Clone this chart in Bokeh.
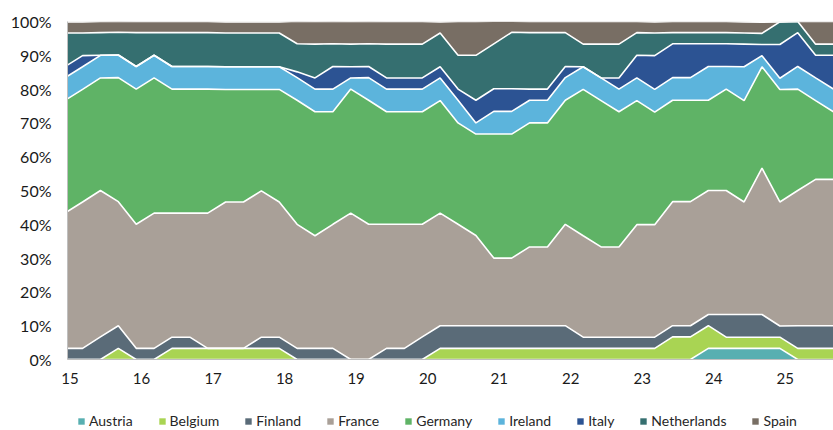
from bokeh.plotting import figure
from bokeh.layouts import column
from bokeh.models import ColumnDataSource, Range1d, FixedTicker, Legend, LegendItem
from bokeh.embed import file_html
from bokeh.resources import INLINE

# ---- data (share of exposure, %, quarterly from 2015) ----
tick_labels = ["15", "16", "17", "18", "19", "20", "21", "22", "23", "24", "25"]
countries = ["Austria", "Belgium", "Finland", "France", "Germany",
             "Ireland", "Italy", "Netherlands", "Spain"]

austria = [0, 0, 0, 0, 0, 0, 0, 0, 0, 0, 0, 0,
           0, 0, 0, 0, 0, 0, 0, 0, 0, 0, 0, 0,
           0, 0, 0, 0, 0, 0, 0, 0, 0, 0, 0, 0,
           3.3, 3.3, 3.3, 3.3, 3.3, 0, 0, 0]
belgium = [0, 0, 0, 3.3, 0, 0, 3.3, 3.3, 3.3, 3.3, 3.3, 3.3,
           3.3, 0, 0, 0, 0, 0, 0, 0, 0, 3.3, 3.3, 3.3,
           3.3, 3.3, 3.3, 3.3, 3.3, 3.3, 3.3, 3.3, 3.3, 3.3, 6.7, 6.7,
           6.7, 3.3, 3.3, 3.3, 3.3, 3.3, 3.3, 3.3]
finland = [3.3, 3.3, 6.7, 6.7, 3.3, 3.3, 3.3, 3.3, 0, 0, 0, 3.3,
           3.3, 3.3, 3.3, 3.3, 0, 0, 3.3, 3.3, 6.7, 6.7, 6.7, 6.7,
           6.7, 6.7, 6.7, 6.7, 6.7, 3.3, 3.3, 3.3, 3.3, 3.3, 3.3, 3.3,
           3.3, 6.7, 6.7, 6.7, 3.3, 6.7, 6.7, 6.7]
france = [40, 43.3, 43.3, 36.7, 36.7, 40, 36.7, 36.7, 40, 43.3, 43.3, 43.3,
          40, 36.7, 33.3, 36.7, 43.3, 40, 36.7, 36.7, 33.3, 33.3, 30, 26.7,
          20, 20, 23.3, 23.3, 30, 30, 26.7, 26.7, 33.3, 33.3, 36.7, 36.7,
          36.7, 36.7, 33.3, 43.3, 36.7, 40, 43.3, 43.3]
germany = [33.3, 33.3, 33.3, 36.7, 40, 40, 36.7, 36.7, 36.7, 33.3, 33.3, 30,
           33.3, 36.7, 36.7, 33.3, 36.7, 36.7, 33.3, 33.3, 33.3, 33.3, 30, 30,
           36.7, 36.7, 36.7, 36.7, 36.7, 43.3, 43.3, 40, 36.7, 33.3, 30, 30,
           26.7, 30, 30, 30, 33.3, 30, 23.3, 20]
ireland = [6.7, 6.7, 6.7, 6.7, 6.7, 6.7, 6.7, 6.7, 6.7, 6.7, 6.7, 6.7,
           6.7, 6.7, 6.7, 6.7, 3.3, 6.7, 6.7, 6.7, 6.7, 6.7, 6.7, 3.3,
           6.7, 6.7, 6.7, 6.7, 6.7, 6.7, 6.7, 6.7, 6.7, 6.7, 6.7, 6.7,
           10, 6.7, 10, 3.3, 3.3, 6.7, 6.7, 6.7]
italy = [3.3, 3.3, 0, 0, 0, 0, 0, 0, 0, 0, 0, 0,
         0, 1.7, 3.3, 6.7, 3.3, 3.3, 3.3, 3.3, 3.3, 3.3, 3.3, 6.7,
         6.7, 6.7, 3.3, 3.3, 3.3, 0, 0, 3.3, 6.7, 10, 10, 10,
         6.7, 6.7, 6.7, 3.3, 10, 10, 6.7, 10]
netherlands = [10, 6.7, 6.7, 6.7, 10, 6.7, 10, 10, 10, 10, 10, 10,
               10, 8.3, 10, 6.7, 6.7, 6.7, 10, 10, 10, 10, 10, 13.3,
               13.3, 16.7, 16.7, 16.7, 10, 6.7, 10, 10, 6.7, 6.7, 3.3, 3.3,
               3.3, 3.3, 3.3, 3.3, 6.7, 3.3, 3.3, 3.3]
spain = [3.3, 3.3, 3.3, 3.3, 3.3, 3.3, 3.3, 3.3, 3.3, 3.3, 3.3, 3.3,
         3.3, 6.7, 6.7, 6.7, 6.7, 6.7, 6.7, 6.7, 6.7, 3.3, 10, 10,
         6.7, 3.3, 3.3, 3.3, 3.3, 6.7, 6.7, 6.7, 3.3, 3.3, 3.3, 3.3,
         3.3, 3.3, 3.3, 3.3, 0, 0, 6.7, 6.7]

colors = ["#58AFB1", "#A9D453", "#5A6B78", "#A9A098", "#5FB366",
          "#5CB4DC", "#2C5393", "#356F70", "#786E64"]

series = [austria, belgium, finland, france, germany, ireland, italy, netherlands, spain]
quarter_index = list(range(len(spain)))
data = {"x": quarter_index}
for name, vals in zip(countries, series):
    data[name] = vals
src = ColumnDataSource(data)

font = "Lato"

p = figure(width=833, height=392, output_backend="svg", toolbar_location=None,
           x_range=Range1d(0.157, 43), y_range=Range1d(0, 100),
           min_border_left=67, min_border_right=0, min_border_top=21,
           min_border_bottom=33)
p.outline_line_color = None
p.grid.visible = False

areas = p.varea_stack(stackers=countries, x="x", color=colors, source=src)
p.vline_stack(stackers=countries, x="x", source=src, line_color="white", line_width=1.6)

p.xaxis.ticker = FixedTicker(ticks=[0.3 + 4 * i for i in range(len(tick_labels))])
p.xaxis.major_label_overrides = {0.3 + 4 * i: t for i, t in enumerate(tick_labels)}
p.yaxis.ticker = FixedTicker(ticks=list(range(0, 101, 10)))
p.yaxis.major_label_overrides = {v: f"{v}%" for v in range(0, 101, 10)}
for ax in (p.xaxis, p.yaxis):
    ax.major_tick_line_color = None
    ax.minor_tick_line_color = None
    ax.major_tick_out = 0
    ax.major_tick_in = 0
    ax.axis_line_color = "#bfbfbf"
    ax.axis_line_width = 1
    ax.major_label_text_font = font
    ax.major_label_text_color = "#1a1a1a"
p.xaxis.major_label_text_font_size = "15px"
p.yaxis.major_label_text_font_size = "16px"
p.xaxis.major_label_standoff = 13
p.yaxis.major_label_standoff = 16

# ---- legend strip below the chart (frame aligned with the chart's frame) ----
lg = figure(width=833, height=38, output_backend="svg", toolbar_location=None,
            x_range=Range1d(0, 1), y_range=Range1d(0, 1),
            min_border_left=0, min_border_right=0,
            min_border_top=0, min_border_bottom=0)
lg.axis.visible = False
lg.grid.visible = False
lg.outline_line_color = None
swatch = ColumnDataSource(dict(x=[-1], y1=[0], y2=[0]))
items = []
for c, col in zip(countries, colors):
    r = lg.varea(x="x", y1="y1", y2="y2", source=swatch, color=col)
    items.append(LegendItem(label=c, renderers=[r]))
legend = Legend(items=items, orientation="horizontal", location=(10, 1),
                glyph_width=8, glyph_height=8, label_standoff=4, spacing=25,
                padding=0, margin=0, border_line_color=None,
                background_fill_alpha=0, label_text_font=font,
                label_text_font_size="14px", label_text_color="#262626",
                label_height=14)
lg.add_layout(legend, "center")

layout = column(p, lg, spacing=0)
open("out.html", "w").write(file_html(layout, INLINE))
